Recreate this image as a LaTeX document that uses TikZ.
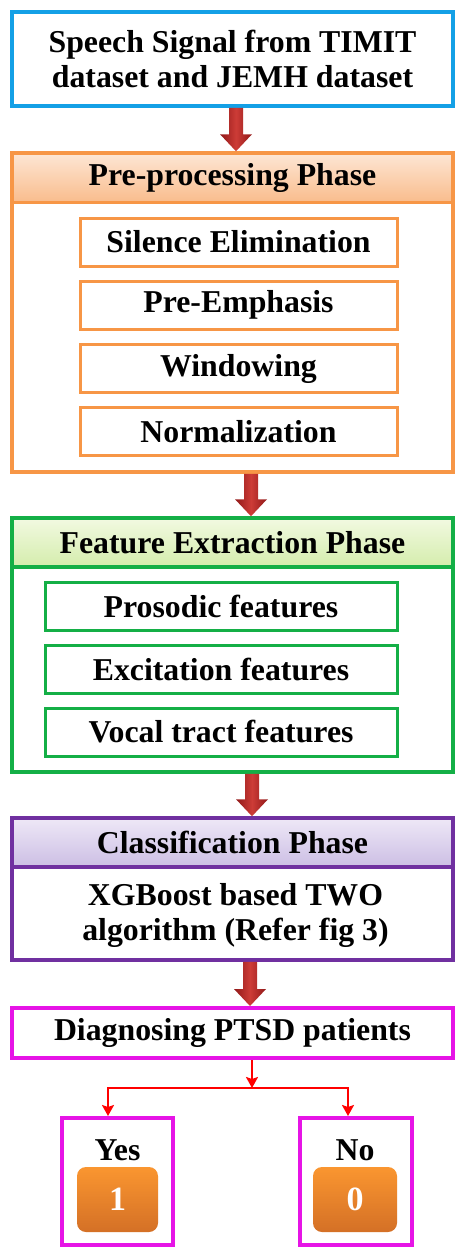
\documentclass[tikz,border=0pt]{standalone}
\usepackage{fontspec}
\setmainfont{Liberation Serif}
\usetikzlibrary{arrows.meta,calc}
\definecolor{cblue}{RGB}{20,160,230}
\definecolor{corange}{RGB}{247,150,70}
\definecolor{cgreen}{RGB}{20,175,70}
\definecolor{cpurple}{RGB}{112,48,160}
\definecolor{cmag}{RGB}{230,20,230}
\definecolor{cred}{RGB}{255,0,0}
\definecolor{oh1}{RGB}{253,230,212}
\definecolor{oh2}{RGB}{249,188,140}
\definecolor{gh1}{RGB}{242,249,225}
\definecolor{gh2}{RGB}{212,237,172}
\definecolor{ph1}{RGB}{238,232,247}
\definecolor{ph2}{RGB}{204,190,228}
\definecolor{og1}{RGB}{250,150,48}
\definecolor{og2}{RGB}{212,112,38}
\definecolor{arrdark}{RGB}{145,25,25}
\definecolor{arrlight}{RGB}{205,60,55}
\newcommand\blockarr[3]{%
  \shade[bigarrow] let \p1=(#1.south), \p2=(#2.north) in
    (#3-7pt,\y1) -- (#3+7pt,\y1) -- (#3+7pt,\y2+17pt) -- (#3+16pt,\y2+17pt)
    -- (#3,\y2) -- (#3-16pt,\y2+17pt) -- (#3-7pt,\y2+17pt) -- cycle;}
\begin{document}
\begin{tikzpicture}[x=1pt,y=-1pt,
  txt/.style={font=\fontsize{31.8}{35}\selectfont\bfseries, align=center, text=black},
  phasebox/.style={draw=#1, line width=3.5pt, fill=white, minimum width=441pt, inner sep=0pt},
  hdr/.style={draw=#1, line width=3.5pt, minimum width=441pt, minimum height=49pt, inner sep=0pt, txt},
  subbox/.style={draw=#1, line width=3pt, fill=white, minimum height=48pt, inner sep=0pt, txt},
  bigarrow/.style={left color=arrdark, right color=arrdark, middle color=arrlight},
  redconn/.style={draw=cred, line width=2.2pt, -{Stealth[length=11pt,width=12pt,inset=2pt]}},
  digit/.style={rounded corners=9pt, top color=og1, bottom color=og2, minimum width=81pt, minimum height=65pt, inner sep=0pt, text=white, font=\fontsize{34}{36}\selectfont\bfseries},
]
\useasboundingbox (0,0) rectangle (455,1247);
\clip (0,0) rectangle (455,1247);

% source
\node[phasebox=cblue, minimum height=94pt, txt] (src) at (232.5,59) {Speech Signal from TIMIT\\dataset and JEMH dataset};

% pre-processing
\node[phasebox=corange, minimum height=319pt] (pre) at (232.5,312.5) {};
\node[hdr=corange, top color=oh1, bottom color=oh2] (prehdr) at (232.5,178) {Pre-processing Phase};
\node[subbox=corange, minimum width=317pt] (sil) at (238.5,242) {Silence Elimination};
\node[subbox=corange, minimum width=317pt] (emph) at (238.5,305) {Pre-Emphasis};
\node[subbox=corange, minimum width=317pt] (win) at (238.5,368.5) {Windowing};
\node[subbox=corange, minimum width=317pt] (norm) at (238.5,431.5) {Normalization};

% feature extraction
\node[phasebox=cgreen, minimum height=254pt] (feat) at (232.5,645) {};
\node[hdr=cgreen, top color=gh1, bottom color=gh2] (feathdr) at (232.5,542.5) {Feature Extraction Phase};
\node[subbox=cgreen, minimum width=352pt] (pros) at (221,606) {Prosodic features};
\node[subbox=cgreen, minimum width=352pt] (exc) at (221,669) {Excitation features};
\node[subbox=cgreen, minimum width=352pt] (voc) at (221,732) {Vocal tract features};

% classification
\node[phasebox=cpurple, minimum height=142pt] (cls) at (232.5,889) {};
\node[hdr=cpurple, top color=ph1, bottom color=ph2] (clshdr) at (232.5,842.5) {Classification Phase};
\node[txt] (xgb) at (235.5,915.5) {XGBoost based TWO\\algorithm (Refer fig 3)};

% diagnosing
\node[phasebox=cmag, line width=4pt, minimum height=50pt, txt] (diag) at (232.5,1033) {Diagnosing PTSD patients};

% outcomes
\node[draw=cmag, line width=4pt, fill=white, minimum width=111pt, minimum height=127pt, inner sep=0pt] (yes) at (117.5,1181.5) {};
\node[draw=cmag, line width=4pt, fill=white, minimum width=112pt, minimum height=127pt, inner sep=0pt] (no) at (356,1181.5) {};
\node[txt] (yeslbl) at (117.5,1150) {Yes};
\node[txt] (nolbl) at (355,1150) {No};
\node[digit] (one) at (117.5,1199.5) {1};
\node[digit, minimum width=84pt] (zero) at (355,1199.5) {0};

% block arrows
\blockarr{src}{pre}{236pt}
\blockarr{pre}{feat}{251pt}
\blockarr{feat}{cls}{252pt}
\blockarr{cls}{diag}{250pt}

% red connectors
\coordinate (split) at (252,1088);
\coordinate (ya) at (108,1088);
\coordinate (na) at (348,1088);
\draw[redconn] (diag.south -| split) -- (split);
\draw[redconn] (split) -| (ya |- yes.north);
\draw[redconn] (split) -| (na |- no.north);
\end{tikzpicture}
\end{document}
